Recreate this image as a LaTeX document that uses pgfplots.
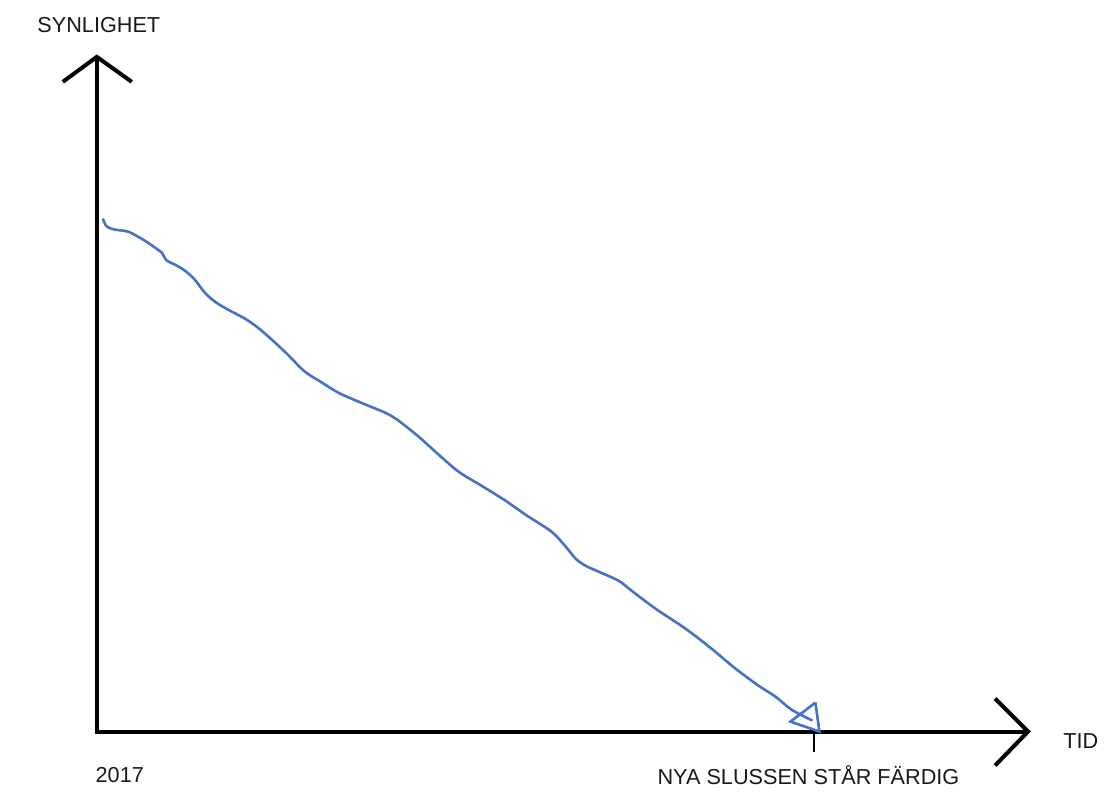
\documentclass[border=0pt]{standalone}
\usepackage{pgfplots}
\pgfplotsset{compat=1.18}
\usepackage{fontspec}
\setmainfont{Liberation Sans}
\definecolor{curveblue}{RGB}{68,114,196}
\newcommand{\lbl}[1]{{\fontsize{10.85}{12}\selectfont #1}}
\begin{document}
\begin{tikzpicture}
\begin{axis}[
  x=0.5pt, y=0.5pt,
  xmin=0, xmax=1105, ymin=0, ymax=787,
  hide axis, clip=false,
]
% frame for bounding box
\addplot[draw=none] coordinates {(0,0) (1105,787)};
% axes
\addplot[black, line width=2pt, line join=miter] coordinates {(97,730) (97,54) (1030,54)};
\addplot[black, line width=2pt, line join=miter] coordinates {(63,705) (97,730) (132,705)};
\addplot[black, line width=2pt, line join=miter] coordinates {(997,87) (1030,54) (997,20)};
% tick
\addplot[black, line width=1pt] coordinates {(816,54) (816,34)};
% curve
\addplot[curveblue, line width=1.3pt, smooth, tension=0.5] coordinates {
(103,568) (107,560) (115,557) (128,555) (138,550) (148,544) (158,537) (162,534)
(167,526) (175,522) (185,516) (195,507) (205,494) (215,485) (228,477) (245,468)
(258,459) (272,447) (288,432) (305,415) (322,404) (340,393) (363,383) (387,373)
(400,365) (420,349) (440,331) (460,314) (483,300) (507,285) (527,271) (553,254)
(567,239) (577,227) (587,220) (598,215) (620,205) (633,195) (657,177) (687,157)
(713,137) (737,117) (760,100) (777,89) (793,76) (814,65)
};
% arrow head
\addplot[curveblue, line width=1.3pt, line join=miter] coordinates {(817,83) (792,64) (821,54) (817,83)};
% labels
\node[text=black!90] at (axis cs:99,762) {\lbl{SYNLIGHET}};
\node[text=black!90] at (axis cs:1083,45) {\lbl{TID}};
\node[text=black!90] at (axis cs:120,10) {\lbl{2017}};
\node[text=black!90] at (axis cs:810,10) {\lbl{NYA SLUSSEN STÅR FÄRDIG}};
\end{axis}
\end{tikzpicture}
\end{document}
